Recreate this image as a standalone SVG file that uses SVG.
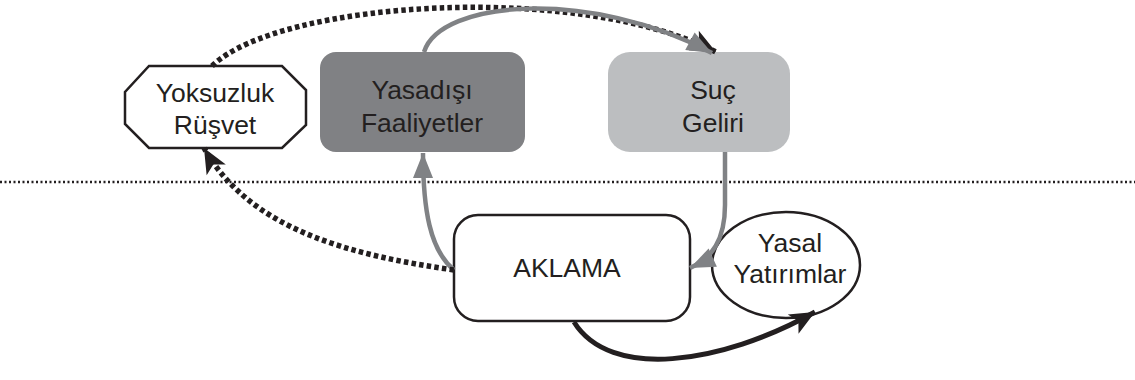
<svg xmlns="http://www.w3.org/2000/svg" width="1135" height="380" viewBox="0 0 1135 380">
<style>
.t{font-family:"Liberation Sans",Arial,sans-serif;font-size:26.5px;fill:#231f20;text-anchor:middle}
.g{fill:none;stroke:#808285;stroke-width:4.5}
.d{fill:none;stroke:#231f20;stroke-width:5.5;stroke-dasharray:4.5 3.2}
.k{fill:none;stroke:#231f20;stroke-width:5}
.o{stroke:#231f20;stroke-width:2.5}
</style>
<defs>
<marker id="ag" viewBox="-26 -12 28 24" refX="0" refY="0" markerWidth="28" markerHeight="24" markerUnits="userSpaceOnUse" orient="auto">
<path d="M0,0 L-25,-10 L-25,10 Z" fill="#808285"/>
</marker>
<marker id="ak" viewBox="-26 -12 28 24" refX="0" refY="0" markerWidth="28" markerHeight="24" markerUnits="userSpaceOnUse" orient="auto">
<path d="M0,0 L-25,-11 L-19,0 L-25,11 Z" fill="#231f20"/>
</marker>
</defs>
<line x1="0" y1="182" x2="1135" y2="182" stroke="#231f20" stroke-width="2.5" stroke-dasharray="2 2.5"/>
<g id="yoksuzluk">
<polygon class="o" fill="#fff" points="149,66 282,66 306,90 306,125 282,148 149,148 125,124 125,92"/>
<text class="t" x="215" y="102">Yoksuzluk</text>
<text class="t" x="215" y="134">Rüşvet</text>
</g>
<g id="yasadisi">
<rect x="320" y="52" width="205" height="100" rx="16" fill="#808184"/>
<text class="t" x="422" y="99">Yasadışı</text>
<text class="t" x="422" y="132">Faaliyetler</text>
</g>
<g id="suc">
<rect x="608" y="52" width="182" height="100" rx="22" fill="#bcbec0"/>
<text class="t" x="713" y="99">Suç</text>
<text class="t" x="713" y="132">Geliri</text>
</g>
<g id="aklama">
<rect class="o" x="454" y="215" width="236" height="106" rx="24" fill="#fff"/>
<text class="t" x="567" y="277">AKLAMA</text>
</g>
<g id="yasal">
<ellipse class="o" cx="786" cy="265" rx="74" ry="53" fill="#fff"/>
<text class="t" x="790" y="252">Yasal</text>
<text class="t" x="790" y="283">Yatırımlar</text>
</g>
<g id="connectors">
<path class="d" d="M212,66 C280,0 580,-18 716,52" marker-end="url(#ak)"/>
<path class="g" d="M424,52 C440,0 590,-12 712,53" marker-end="url(#ag)"/>
<path class="g" d="M454,270 C430,250 423,210 423,153" marker-end="url(#ag)"/>
<path class="g" d="M725,152 L725,205 C725,240 712,258 690,268" marker-end="url(#ag)"/>
<path class="d" d="M454,270 C350,255 250,230 204,148" marker-end="url(#ak)"/>
<path class="k" d="M574,322 C610,380 720,365 815,312" marker-end="url(#ak)"/>
</g>
</svg>
